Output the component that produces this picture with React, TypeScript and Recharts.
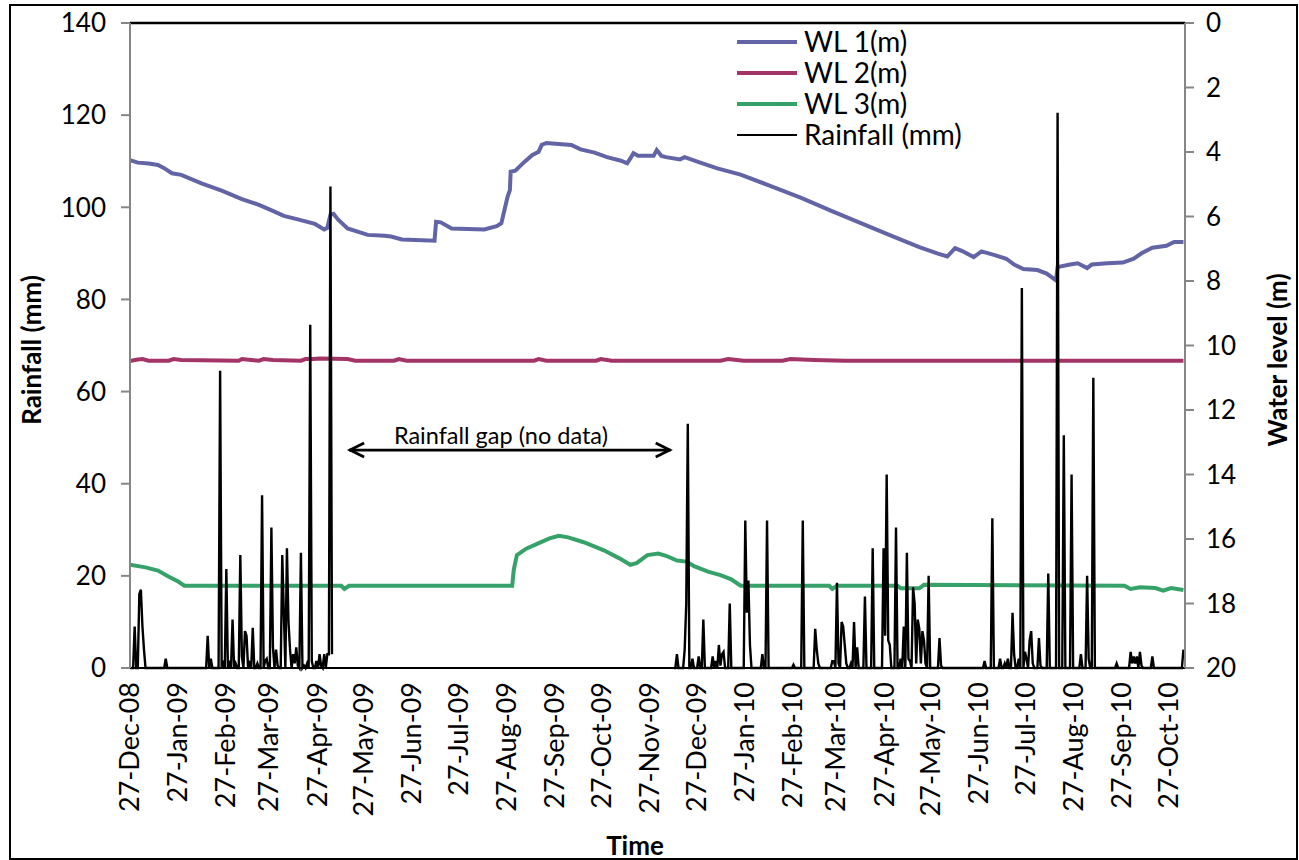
import React from 'react';
import { LineChart, Line, XAxis, YAxis, ReferenceLine } from 'recharts';

const FONT = 'Lato, "Open Sans", sans-serif';

// ---- axis ticks ----
const xTickDays = [0, 31, 62, 90, 121, 151, 182, 212, 243, 274, 304, 335, 365, 396, 427, 455, 486, 516, 547, 577, 608, 639, 669];
const xTickLabels = [
  '27-Dec-08', '27-Jan-09', '27-Feb-09', '27-Mar-09', '27-Apr-09', '27-May-09', '27-Jun-09', '27-Jul-09',
  '27-Aug-09', '27-Sep-09', '27-Oct-09', '27-Nov-09', '27-Dec-09', '27-Jan-10', '27-Feb-10', '27-Mar-10',
  '27-Apr-10', '27-May-10', '27-Jun-10', '27-Jul-10', '27-Aug-10', '27-Sep-10', '27-Oct-10',
];
const rainfallTicks = [0, 20, 40, 60, 80, 100, 120, 140];
const waterLevelTicks = [0, 2, 4, 6, 8, 10, 12, 14, 16, 18, 20];

// ---- series: [day since 27-Dec-08, value] ----
const wl1Points: [number, number][] = [
  [0, 4.25], [5, 4.33], [12, 4.36], [18, 4.4], [22, 4.5], [27, 4.66], [33, 4.71], [46, 4.97], [59, 5.2],
  [72, 5.46], [83, 5.64], [93, 5.85], [99, 5.98], [108, 6.09], [119, 6.23], [125, 6.4], [127, 6.35],
  [129, 5.95], [131, 5.92], [134, 6.1], [140, 6.37], [153, 6.57], [164, 6.6], [168, 6.62], [175, 6.71],
  [196, 6.75], [197, 6.16], [200, 6.18], [207, 6.37], [228, 6.4], [236, 6.3], [239, 6.21], [241, 5.8],
  [243, 5.39], [244.5, 5.18], [245, 4.61], [248, 4.58], [254, 4.3], [259, 4.09], [263, 3.99], [265, 3.78],
  [268, 3.72], [284, 3.78], [290, 3.92], [299, 4.02], [307, 4.16], [316, 4.27], [320, 4.35], [322, 4.2],
  [324, 4.04], [327, 4.12], [337, 4.12], [339, 3.94], [342, 4.12], [345, 4.16], [354, 4.23], [357, 4.16],
  [367, 4.33], [378, 4.51], [393, 4.7], [412, 5.05], [432, 5.42], [451, 5.82], [470, 6.2], [489, 6.58],
  [508, 6.95], [520, 7.15], [526, 7.24], [531, 6.98], [536, 7.08], [543, 7.26], [548, 7.08], [556, 7.19],
  [564, 7.31], [569, 7.49], [575, 7.63], [584, 7.66], [590, 7.77], [596, 7.98], [597, 7.57], [605, 7.49],
  [610, 7.45], [616, 7.6], [619, 7.49], [629, 7.45], [639, 7.43], [646, 7.31], [651, 7.14], [658, 6.97],
  [667, 6.91], [672, 6.79], [678, 6.79],
];

const wl2Points: [number, number][] = [
  [0, 10.48], [4, 10.44], [8, 10.42], [12, 10.47], [25, 10.47], [28, 10.42], [33, 10.45], [70, 10.47],
  [72, 10.42], [78, 10.45], [83, 10.47], [86, 10.42], [92, 10.45], [110, 10.47], [113, 10.42], [118, 10.42],
  [122, 10.4], [140, 10.42], [145, 10.47], [170, 10.47], [173, 10.42], [178, 10.47], [260, 10.47],
  [263, 10.42], [268, 10.47], [300, 10.47], [303, 10.42], [310, 10.47], [380, 10.47], [385, 10.42],
  [395, 10.47], [420, 10.47], [425, 10.42], [440, 10.45], [460, 10.47], [678, 10.47],
];

const wl3Points: [number, number][] = [
  [0, 16.8], [10, 16.88], [18, 16.98], [25, 17.17], [31, 17.32], [35, 17.45], [136, 17.45], [138, 17.55],
  [141, 17.45], [246, 17.45], [247, 16.95], [249, 16.5], [255, 16.3], [262, 16.15], [270, 15.98],
  [276, 15.9], [282, 15.95], [292, 16.1], [305, 16.35], [315, 16.6], [322, 16.8], [326, 16.75], [333, 16.5],
  [340, 16.45], [345, 16.52], [352, 16.67], [358, 16.7], [363, 16.84], [372, 17.01], [380, 17.12],
  [387, 17.25], [393, 17.45], [450, 17.45], [452, 17.55], [455, 17.45], [494, 17.45], [496, 17.53],
  [508, 17.53], [511, 17.42], [640, 17.45], [644, 17.55], [650, 17.5], [660, 17.52], [665, 17.6],
  [670, 17.52], [678, 17.58],
];

// daily rainfall (mm); days inside a recorded period that are not listed had no rain
const rainEvents: [number, number][] = [
  [3, 9], [6, 16], [7, 17], [8, 9], [9, 4], [23, 2], [50, 7], [52, 2], [58, 64.5], [60, 1], [62, 21.5],
  [64, 1], [66, 10.5], [68, 1], [71, 24.5], [72, 2.5], [74, 8], [75, 7], [77, 1], [79, 8.7], [82, 1],
  [85, 37.5], [87, 1.5], [88, 2], [91, 30.5], [92, 4.5], [94, 4], [95, 0.5], [98, 24.5], [99, 12],
  [101, 26], [102, 10], [103, 4], [105, 3], [106, 1], [107, 4.5], [108, 0.5], [110, 25], [112, 0.5],
  [114, 1], [116, 74.5], [117, 1.5], [120, 1.5], [122, 3], [123, 0.5], [125, 3], [127, 3], [128, 3],
  [129, 104.5], [130, 3],
  [352, 3], [357, 4], [358, 14], [359, 53], [362, 2], [366, 2.5], [369, 10.5], [375, 2.5], [377, 1.5],
  [379, 5], [380, 0.5], [381, 3], [382, 3.5], [386, 14], [396, 32], [397, 12], [398, 19], [399, 5],
  [407, 3], [410, 32], [427, 0.7], [433, 32], [441, 8.5], [442, 4], [443, 1], [452, 1.5], [453, 1.5],
  [455, 18.5], [456, 1], [458, 10], [459, 9], [460, 5], [461, 1], [464, 1], [466, 10], [468, 4.5],
  [473, 15.5], [478, 26], [485, 26], [486, 7], [487, 42], [488, 6], [489, 5], [493, 30.5], [496, 2],
  [498, 9], [500, 25], [501, 2], [502, 1.5], [504, 17.5], [505, 14], [506, 1], [507, 10.5], [508, 8.5],
  [509, 1], [510, 8], [511, 6], [512, 1], [514, 20], [521, 6.5], [522, 0.5],
  [550, 1.5], [555, 32.5], [560, 2], [563, 1], [565, 2], [568, 12], [569, 3], [572, 2], [574, 82.5],
  [576, 3.5], [577, 2], [579, 6], [580, 8], [581, 1], [585, 6.5], [586, 0.5], [591, 20.5], [597, 120.5],
  [601, 50.5], [606, 42], [612, 3], [616, 20], [617, 2], [620, 63], [635, 1], [644, 3.5], [645, 1],
  [646, 2.5], [647, 1], [648, 2.5], [650, 3.5], [651, 0.5], [658, 2.5], [678, 4],
];
const rainRecordedPeriods: [number, number][] = [[0, 130], [350, 678]];
const lastDay = 678;

const seriesNames = ['WL 1(m)', 'WL 2(m)', 'WL 3(m)', 'Rainfall (mm)'];
const seriesColors = ['#6264A6', '#A33467', '#36A26A', '#000000'];

// ---- table building ----
const toRows = (pts: [number, number][]) => pts.map(([day, v]) => ({ day, v }));
const wl1Rows = toRows(wl1Points);
const wl2Rows = toRows(wl2Points);
const wl3Rows = toRows(wl3Points);
const rainfallRows = (() => {
  const byDay = new Map<number, number>(rainEvents);
  const rows: { day: number; v: number | null }[] = [];
  for (let d = 0; d <= lastDay; d++) {
    const recorded = rainRecordedPeriods.some(([a, b]) => d >= a && d <= b);
    rows.push({ day: d, v: recorded ? byDay.get(d) ?? 0 : null });
  }
  return rows;
})();

const XTick = (props: any) => {
  const { x, y, payload } = props;
  const i = xTickDays.indexOf(payload.value);
  const cx = x - 2;
  return (
    <text
      x={cx}
      y={y}
      transform={`rotate(-90 ${cx} ${y})`}
      textAnchor="end"
      dominantBaseline="central"
      fontSize={27}
      fontFamily={FONT}
      fill="#000"
    >
      {i >= 0 ? xTickLabels[i] : ''}
    </text>
  );
};

const GapArrow = (props: any) => {
  const { x1, y1, x2, y2 } = props;
  if (x1 == null) return null;
  const s = { fill: 'none', stroke: '#000', strokeWidth: 2.8 };
  return (
    <g>
      <line x1={x1} y1={y1} x2={x2} y2={y2} stroke="#000" strokeWidth={2.8} />
      <polyline points={`${x1 + 15},${y1 - 7} ${x1 + 1},${y1} ${x1 + 15},${y1 + 7}`} {...s} />
      <polyline points={`${x2 - 15},${y2 - 7} ${x2 - 1},${y2} ${x2 - 15},${y2 + 7}`} {...s} />
      <text x={(x1 + x2) / 2 - 9} y={y1 - 6} textAnchor="middle" fontSize={23.5} fontFamily={FONT} fill="#000">
        Rainfall gap (no data)
      </text>
    </g>
  );
};

export default function App() {
  const axisGray = '#868686';
  return (
    <div style={{ position: 'absolute', left: 0, top: 0, width: 1299, height: 860, background: '#fff', fontFamily: FONT }}>
      <LineChart width={1299} height={860} margin={{ top: 23, right: 14, bottom: 42, left: 30 }}>
        <XAxis
          type="number"
          dataKey="day"
          domain={[0, 679]}
          ticks={xTickDays}
          interval={0}
          tick={XTick}
          tickLine={false}
          tickSize={0}
          tickMargin={14}
          axisLine={{ stroke: '#000', strokeWidth: 2 }}
          height={150}
          allowDataOverflow
        />
        <YAxis
          yAxisId="left"
          orientation="left"
          domain={[0, 140]}
          ticks={rainfallTicks}
          interval={0}
          width={100}
          axisLine={{ stroke: axisGray, strokeWidth: 2 }}
          tickLine={{ stroke: axisGray, strokeWidth: 2 }}
          tickSize={9}
          tickMargin={15}
          tick={{ fill: '#000', fontSize: 26, fontFamily: FONT }}
        />
        <YAxis
          yAxisId="right"
          orientation="right"
          reversed
          domain={[0, 20]}
          ticks={waterLevelTicks}
          interval={0}
          width={100}
          axisLine={{ stroke: axisGray, strokeWidth: 2 }}
          tickLine={{ stroke: axisGray, strokeWidth: 2 }}
          tickSize={9}
          tickMargin={12}
          tick={{ fill: '#000', fontSize: 26, fontFamily: FONT }}
        />
        <ReferenceLine yAxisId="left" y={140} stroke="#000" strokeWidth={2.5} />
        <ReferenceLine
          yAxisId="left"
          segment={[{ x: 141, y: 47.3 }, { x: 348, y: 47.3 }]}
          shape={GapArrow}
        />
        <Line yAxisId="right" data={wl1Rows} dataKey="v" name={seriesNames[0]} type="linear" stroke={seriesColors[0]} strokeWidth={4} dot={false} isAnimationActive={false} />
        <Line yAxisId="right" data={wl2Rows} dataKey="v" name={seriesNames[1]} type="linear" stroke={seriesColors[1]} strokeWidth={4} dot={false} isAnimationActive={false} />
        <Line yAxisId="right" data={wl3Rows} dataKey="v" name={seriesNames[2]} type="linear" stroke={seriesColors[2]} strokeWidth={4} dot={false} isAnimationActive={false} />
        <Line yAxisId="left" data={rainfallRows} dataKey="v" name={seriesNames[3]} type="linear" stroke={seriesColors[3]} strokeWidth={2.4} dot={false} connectNulls={false} isAnimationActive={false} />
      </LineChart>

      {/* axis titles */}
      <svg width={1299} height={860} style={{ position: 'absolute', left: 0, top: 0, pointerEvents: 'none' }}>
        <text x={31} y={350} transform="rotate(-90 31 350)" textAnchor="middle" dominantBaseline="central" fontSize={26} fontWeight="bold" fontFamily={FONT} fill="#000">
          Rainfall (mm)
        </text>
        <text x={1277} y={360} transform="rotate(-90 1277 360)" textAnchor="middle" dominantBaseline="central" fontSize={26} fontWeight="bold" fontFamily={FONT} fill="#000">
          Water level (m)
        </text>
        <text x={635} y={845} textAnchor="middle" dominantBaseline="central" fontSize={26} fontWeight="bold" fontFamily={FONT} fill="#000">
          Time
        </text>
      </svg>

      {/* legend */}
      <div style={{ position: 'absolute', left: 737, top: 26, lineHeight: '31px', fontSize: 28, fontFamily: FONT, color: '#000' }}>
        {seriesNames.map((n, i) => (
          <div key={n} style={{ display: 'flex', alignItems: 'center', height: 31 }}>
            <div style={{ width: 60, height: i === 3 ? 2 : 4, background: seriesColors[i], marginRight: 7 }} />
            <span>{n}</span>
          </div>
        ))}
      </div>

      {/* outer chart border */}
      <div style={{ position: 'absolute', left: 9, top: 4, width: 1289, height: 856, border: '2px solid #000', boxSizing: 'border-box', pointerEvents: 'none' }} />
    </div>
  );
}
